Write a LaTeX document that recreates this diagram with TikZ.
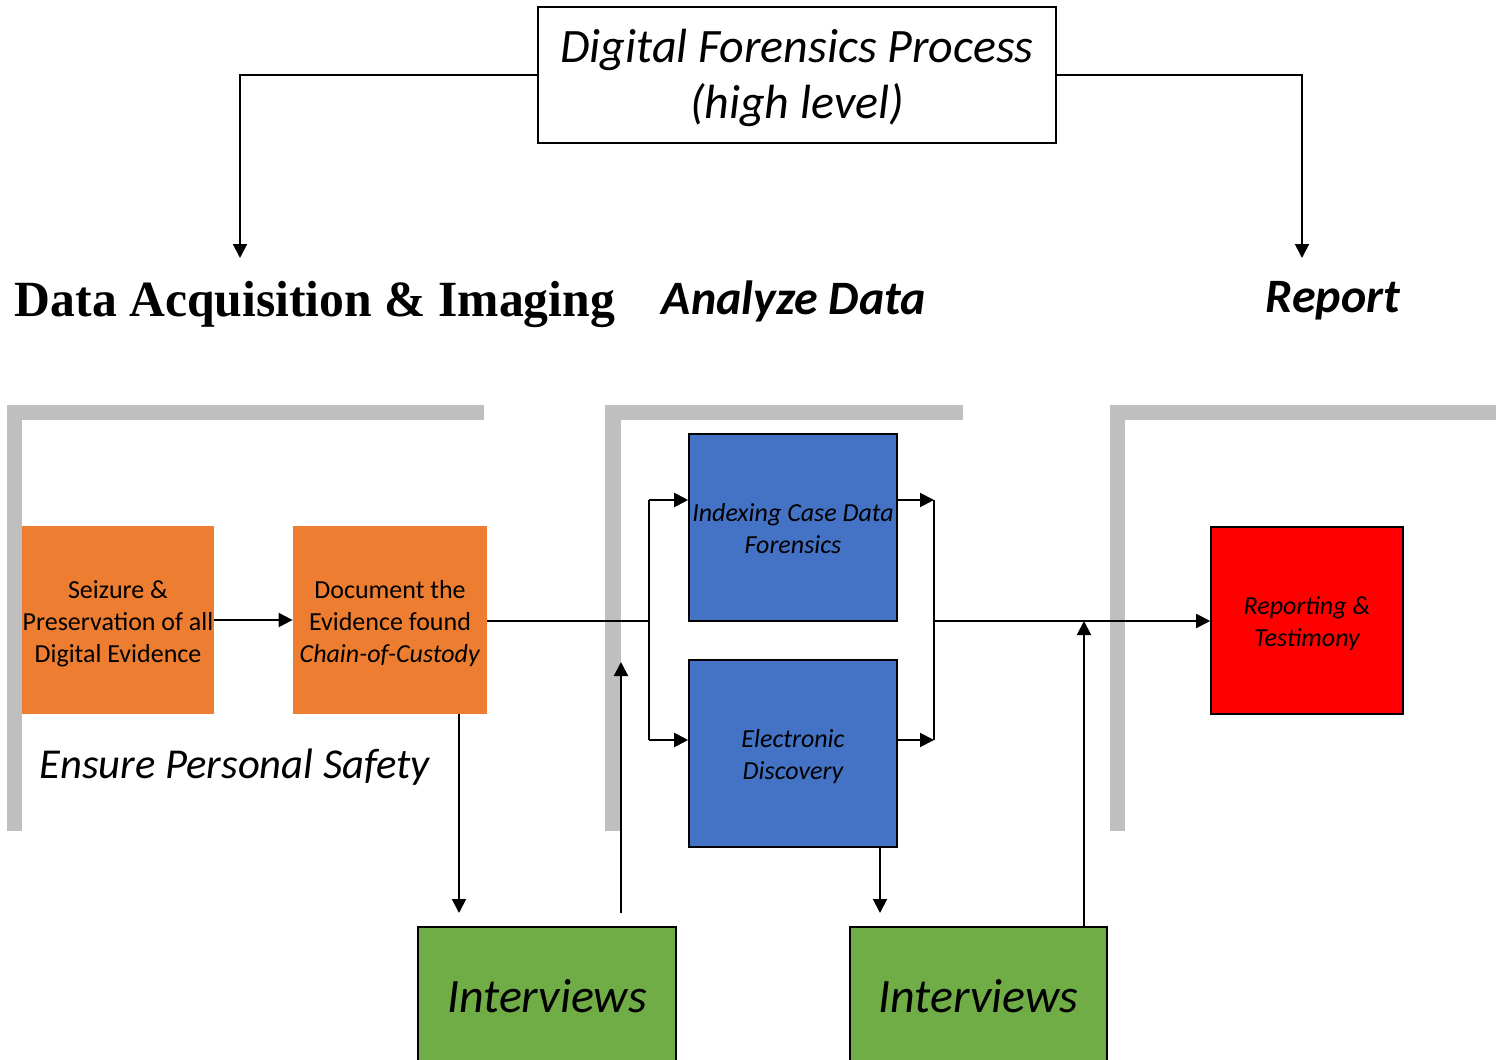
\documentclass[tikz,border=0pt]{standalone}
\usepackage{fontspec}
\setmainfont{Carlito}
\newfontfamily\serifb{Liberation Serif}
\usetikzlibrary{arrows.meta}
\definecolor{orng}{HTML}{ED7D31}
\definecolor{blu}{HTML}{4472C4}
\definecolor{grn}{HTML}{70AD47}
\definecolor{gry}{HTML}{BFBFBF}
\definecolor{redbox}{HTML}{FF0000}
\begin{document}
\begin{tikzpicture}[x=0.5pt,y=-0.5pt,
  arr/.style={-{Triangle[length=7pt,width=7pt]}, line width=1pt},
  ln/.style={line width=1pt},
  box/.style={rectangle, inner sep=0pt},
  obox/.style={box, fill=orng},
  bbox/.style={box, fill=blu, draw=black, line width=0.8pt},
  rbox/.style={box, fill=redbox, draw=black, line width=0.8pt},
  gbox/.style={box, fill=grn, draw=black, line width=0.8pt},
  txt/.style={inner sep=0pt, align=center, font=\fontsize{13}{16}\selectfont},
  itxt/.style={txt, font=\fontsize{13}{16}\selectfont\itshape},
  head/.style={inner sep=0pt, font=\fontsize{24}{28}\selectfont\bfseries\itshape}]
\path[use as bounding box] (0,0) rectangle (1496,1060);
% gray brackets
\fill[gry] (7,405) rectangle (484,420);
\fill[gry] (7,405) rectangle (22,831);
\fill[gry] (605,405) rectangle (963,420);
\fill[gry] (605,405) rectangle (621,831);
\fill[gry] (1110,405) rectangle (1496,420);
\fill[gry] (1110,405) rectangle (1125,831);
% title
\node[draw=black, line width=1pt, inner sep=0pt, minimum width=259pt, minimum height=68pt] (title) at (797,75) {};
\node[inner sep=0pt, align=center, font=\fontsize{24}{28}\selectfont\itshape] (titlet) at (797,78)
      {Digital Forensics Process\\(high level)};
% headings
\node[inner sep=0pt] (acq) at (315,304) {\resizebox{300pt}{17.6pt}{\serifb\bfseries Data Acquisition \& Imaging}};
\node[head] (ana) at (794,301) {Analyze Data};
\node[head] (rep) at (1333,301) {Report};
\node[inner sep=0pt, font=\fontsize{21.3}{24}\selectfont\itshape] (safe) at (235,767) {Ensure Personal Safety};
% boxes
\node[obox, minimum width=96pt, minimum height=94pt] (b1) at (118,620) {};
\node[obox, minimum width=97pt, minimum height=94pt] (b2) at (390,620) {};
\node[bbox, minimum width=104pt, minimum height=93.5pt] (bA) at (793,527.5) {};
\node[bbox, minimum width=104pt, minimum height=93.5pt] (bB) at (793,753.5) {};
\node[rbox, minimum width=96pt, minimum height=93.5pt] (red) at (1307,620.5) {};
\node[gbox, minimum width=129pt, minimum height=68.5pt] (g1) at (547,995.5) {};
\node[gbox, minimum width=128.5pt, minimum height=68.5pt] (g2) at (978.5,995.5) {};
% box texts
\node[txt] (b1t) at (118,624) {Seizure \&\\Preservation of all\\Digital Evidence};
\node[txt] (b2t) at (390,624) {Document the\\Evidence found\\\textit{Chain-of-Custody}};
\node[itxt] (bAt) at (793,529) {Indexing Case Data\\Forensics};
\node[itxt] (bBt) at (793,757) {Electronic\\Discovery};
\node[itxt] (redt) at (1307,623.5) {Reporting \&\\Testimony};
\node[inner sep=0pt, font=\fontsize{24}{28}\selectfont\itshape] (g1t) at (547,996) {Interviews};
\node[inner sep=0pt, font=\fontsize{24}{28}\selectfont\itshape] (g2t) at (978.5,996) {Interviews};
% coordinates
\coordinate (c1) at (240,258);
\coordinate (c2) at (1302,258);
\coordinate (jl) at (649,621);
\coordinate (jt) at (649,500);
\coordinate (jb) at (649,740);
\coordinate (kt) at (934,500);
\coordinate (kb) at (934,740);
\coordinate (km) at (934,621);
\coordinate (d1) at (459,913);
\coordinate (u1s) at (621,913);
\coordinate (u1e) at (621,662);
\coordinate (d2) at (880,913);
\coordinate (u2) at (1084,621);
% connectors
\draw[arr] (title.west) -| (c1);
\draw[arr] (title.east) -| (c2);
\draw[arr] (b1) -- (b2);
\draw[ln] (b2.east |- jl) -- (jl);
\draw[ln] (jt) -- (jb);
\draw[arr] (jt) -- (jt -| bA.west);
\draw[arr] (jb) -- (jb -| bB.west);
\draw[arr] (jt -| bA.east) -- (kt);
\draw[arr] (jb -| bB.east) -- (kb);
\draw[ln] (kt) -- (kb);
\draw[arr] (km) -- (km -| red.west);
\draw[arr] (d1 |- b2.south) -- (d1);
\draw[arr] (u1s) -- (u1e);
\draw[arr] (d2 |- bB.south) -- (d2);
\draw[arr] (u2 |- g2.north) -- (u2);
\end{tikzpicture}
\end{document}
